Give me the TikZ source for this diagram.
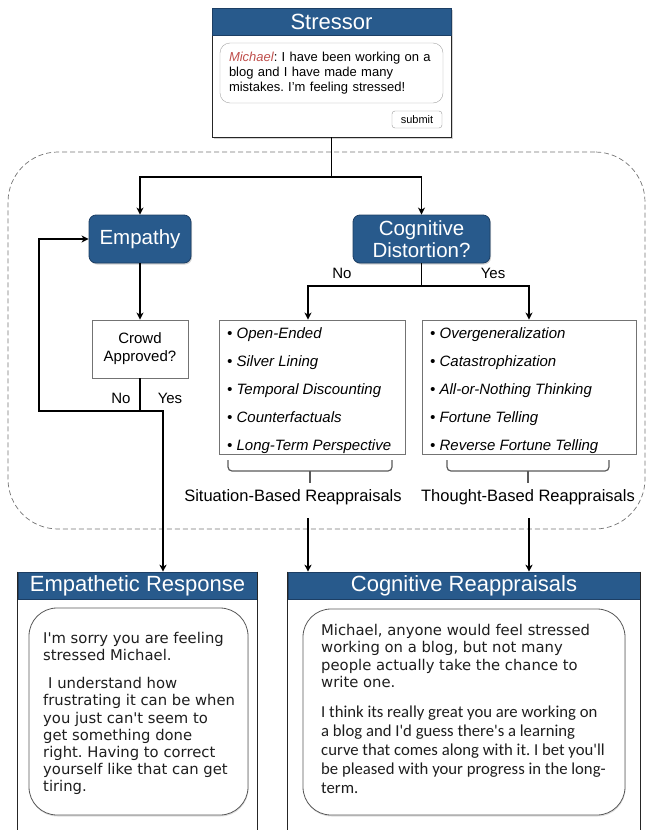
\documentclass[tikz,border=0pt]{standalone}
\usepackage{fontspec}
\setmainfont{Liberation Sans}
\newfontfamily\verd{DejaVu Sans}
\newfontfamily\carl{Carlito}
\usetikzlibrary{arrows.meta,calc,shadows}
\definecolor{hblue}{RGB}{40,90,140}
\definecolor{hborder}{RGB}{28,62,100}
\definecolor{michred}{RGB}{192,80,77}
\definecolor{txt}{RGB}{30,30,30}
\frenchspacing
\begin{document}
\frenchspacing
\begin{tikzpicture}[x=1pt,y=-1pt,
  head/.style={fill=hblue, draw=hborder, line width=0.6pt, text=white, inner sep=0pt,
    font=\fontsize{22}{24}\selectfont, minimum height=27pt},
  frame/.style={draw=black!85, line width=0.8pt},
  bluebox/.style={fill=hblue, draw=hborder, line width=0.8pt, rounded corners=7pt, text=white,
    font=\fontsize{20.5}{22}\selectfont, align=center, inner sep=0pt,
    drop shadow={opacity=0.35, shadow xshift=1pt, shadow yshift=-1.5pt}},
  graybox/.style={draw=black!55, fill=white, line width=0.8pt, inner sep=0pt},
  conn/.style={line width=1.6pt, black},
  arr/.style={conn, -{Stealth[length=7pt,width=7pt,inset=2pt]}},
  msgbox/.style={draw=black!65, fill=white, line width=0.8pt, rounded corners=28pt, inner sep=0pt,
    drop shadow={opacity=0.25, shadow xshift=0.5pt, shadow yshift=-1.5pt}},
  lbl/.style={font=\fontsize{15}{17}\selectfont, inner sep=0pt},
  itemtext/.style={align=left, inner sep=0pt, anchor=west,
    font=\fontsize{15}{28}\selectfont\itshape},
  bracestyle/.style={draw=black!65, line width=1.2pt, rounded corners=4pt},
  reslbl/.style={font=\fontsize{16.5}{18}\selectfont, inner sep=0pt},
  resptext/.style={anchor=north west, inner sep=0pt, align=left, text=txt}
]
\useasboundingbox (0,0) rectangle (650,830);

% dashed region
\node[draw=black!55, dash pattern=on 5pt off 3pt, rounded corners=50pt, minimum width=637pt,
  minimum height=377pt, inner sep=0pt, line width=0.7pt] (region) at (326.5,340.5) {};

% Stressor
\node[frame, fill=white, minimum width=239pt, minimum height=129pt, inner sep=0pt,
  drop shadow={opacity=0.35, shadow xshift=1.5pt, shadow yshift=-1.5pt}] (stressor) at (331.5,72.5) {};
\node[head, minimum width=239pt] (stressorhead) at (331.5,21.5) {Stressor};
\node[draw=black!35, rounded corners=10pt, minimum width=223pt, minimum height=60pt, inner sep=0pt,
  text width=205pt, align=left, font=\fontsize{13}{14.7}\selectfont] (msg) at (331.5,73)
  {\textcolor{michred}{\itshape Michael}: I have been working on a\\ blog and I have made many\\ mistakes. I'm feeling stressed!};
\node[draw=black!40, rounded corners=3pt, minimum width=50pt, minimum height=17pt, inner sep=0pt,
  font=\fontsize{11}{12}\selectfont] (submit) at (417,119.5) {submit};

% decision boxes
\node[bluebox, minimum width=102pt, minimum height=48pt] (empathy) at (140,239) {Empathy};
\node[bluebox, minimum width=137pt, minimum height=48pt] (cog) at (421.5,239) {Cognitive\\Distortion?};
\node[graybox, minimum width=96pt, minimum height=58pt, align=center,
  font=\fontsize{15}{18}\selectfont] (crowd) at (140,349) {Crowd\\Approved?};

% item lists
\node[graybox, minimum width=186pt, minimum height=134pt] (sit) at (312,387) {};
\node[itemtext] (sitlist) at (227,391)
  {\textbullet\ Open-Ended\\ \textbullet\ Silver Lining\\ \textbullet\ Temporal Discounting\\
   \textbullet\ Counterfactuals\\ \textbullet\ Long-Term Perspective};
\node[graybox, minimum width=214pt, minimum height=134pt] (thought) at (529,387) {};
\node[itemtext] (thlist) at (430,391)
  {\textbullet\ Overgeneralization\\ \textbullet\ Catastrophization\\ \textbullet\ All-or-Nothing Thinking\\
   \textbullet\ Fortune Telling\\ \textbullet\ Reverse Fortune Telling};

% braces
\draw[bracestyle] (228,460) -- (228,471) -- (392,471) -- (392,460);
\draw[bracestyle] (310,471) -- (310,483);
\draw[bracestyle] (447,460) -- (447,471) -- (609,471) -- (609,460);
\draw[bracestyle] (528,471) -- (528,483);

\node[reslbl] (sitlbl) at (293,497) {Situation-Based Reappraisals};
\node[reslbl] (thlbl) at (528,497) {Thought-Based Reappraisals};

% labels
\node[lbl] (no1) at (121,398) {No};
\node[lbl] (yes1) at (170,398) {Yes};
\node[lbl] (no2) at (342,273) {No};
\node[lbl] (yes2) at (493,273) {Yes};

% response frames
\coordinate (bottomc) at (0,832);
\node[head, minimum width=239pt] (emphead) at (137.5,585.5) {Empathetic Response};
\draw[frame] (emphead.north west) -- (emphead.north west |- bottomc);
\draw[frame] (emphead.north east) -- (emphead.north east |- bottomc);
\node[head, minimum width=352pt] (coghead) at (464,585.5) {Cognitive Reappraisals};
\draw[frame] (coghead.north west) -- (coghead.north west |- bottomc);
\draw[frame] (coghead.north east) -- (coghead.north east |- bottomc);

\node[msgbox, minimum width=219pt, minimum height=207pt] (empmsg) at (138.5,711.5) {};
\node[resptext, font=\verd\fontsize{14.8}{17.15}\selectfont] (emptext) at (43,632)
  {I'm sorry you are feeling\\ stressed Michael.\\[11pt]
   \hspace*{5pt}I understand how\\ frustrating it can be when\\ you just can't seem to\\ get something done\\
   right. Having to correct\\ yourself like that can get\\ tiring.};

\node[msgbox, minimum width=322pt, minimum height=206pt] (cogmsg) at (464,712) {};
\node[resptext, font=\verd\fontsize{14.8}{17.3}\selectfont] (cogtext1) at (321,624)
  {Michael, anyone would feel stressed\\ working on a blog, but not many\\ people actually take the chance to\\ write one.};
\node[resptext, font=\carl\fontsize{16.7}{19}\selectfont] (cogtext2) at (321,706)
  {I think its really great you are working on\\ a blog and I'd guess there's a learning\\
   curve that comes along with it. I bet you'll\\ be pleased with your progress in the long-\\ term.};

% connectors
\coordinate (split) at (331.5,177);
\draw[conn] (stressor.south) -- (split);
\draw[arr] (split) -| (empathy.north);
\draw[arr] (split) -| (cog.north);

\draw[arr] (empathy.south) -- (crowd.north);
\coordinate (cj) at (140,411);
\coordinate (loopc) at (39,411);
\coordinate (yesc) at (163,411);
\draw[conn] (crowd.south) -- (cj);
\draw[arr] (cj) -- (loopc) |- (empathy.west);
\draw[arr] (cj) -- (yesc) -- (yesc |- emphead.north);

\coordinate (cj2) at (421.5,286);
\coordinate (sitin) at (308,286);
\draw[conn] (cog.south) -- (cj2);
\draw[arr] (cj2) -- (sitin) -- (sitin |- sit.north);
\draw[arr] (cj2) -| (thought.north);

\coordinate (s1) at (308,518);
\coordinate (t1) at (529,518);
\draw[arr] (s1) -- (s1 |- coghead.north);
\draw[arr] (t1) -- (t1 |- coghead.north);
\end{tikzpicture}
\end{document}
